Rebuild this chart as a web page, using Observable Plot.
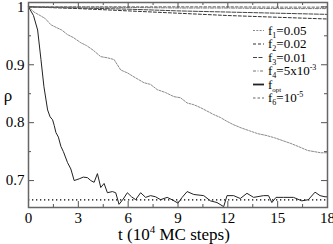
<!DOCTYPE html>
<html><head><meta charset="utf-8">
<script src="https://cdn.jsdelivr.net/npm/d3@7"></script>
<script src="https://cdn.jsdelivr.net/npm/@observablehq/plot@0.6"></script>
<style>body{margin:0;background:#fff} svg{display:block}</style>
</head><body><div id="chart"></div>
<script>
// ---- data ----
const tOpt = [0,0.3,0.55,0.75,0.93,1.15,1.3,1.45,1.55,1.65,1.8,1.95,2.1,2.35,2.55,2.75,3.05,3.3,3.55,3.75,3.95,4.15,4.35,4.55,4.75,5.05,5.25,5.45,5.7,5.95,6.2,6.45,6.75,7.05,7.35,7.65,7.95,8.35,8.7,9.0,9.25,9.55,9.95,10.55,10.95,11.35,11.75,11.95,12.35,12.75,13.15,13.55,14.15,14.45,14.65,14.9,15.35,15.95,16.45,16.85,17.25,17.55,17.85,18];
const rhoOpt = [1,0.985,0.96,0.909,0.862,0.822,0.81,0.805,0.795,0.783,0.775,0.759,0.75,0.731,0.72,0.70,0.703,0.706,0.705,0.70,0.697,0.712,0.688,0.695,0.679,0.681,0.679,0.659,0.668,0.679,0.672,0.667,0.679,0.671,0.674,0.672,0.667,0.671,0.666,0.661,0.671,0.681,0.676,0.674,0.665,0.662,0.655,0.674,0.674,0.669,0.678,0.671,0.674,0.674,0.662,0.671,0.671,0.671,0.665,0.667,0.680,0.674,0.672,0.672];
const tF1 = [0,0.33,0.7,1.0,1.35,1.7,2.0,2.35,2.7,3.15,3.5,3.9,4.35,4.75,5.15,5.55,5.95,6.35,6.95,7.35,7.75,8.25,8.75,9.15,9.55,9.95,10.35,10.75,11.15,11.55,11.9,12.3,12.8,13.3,13.8,14.3,14.8,15.3,15.8,16.4,16.8,17.2,17.6,18];
const rhoF1 = [1,0.991,0.985,0.98,0.969,0.964,0.96,0.952,0.947,0.938,0.933,0.925,0.914,0.912,0.909,0.891,0.886,0.879,0.869,0.866,0.857,0.852,0.845,0.843,0.834,0.831,0.826,0.82,0.814,0.809,0.803,0.797,0.791,0.786,0.781,0.778,0.774,0.769,0.764,0.757,0.752,0.75,0.748,0.748];
const tTop = [0,3,6,9,12,15,18];
const rhoF2 = [1,0.997,0.993,0.989,0.985,0.982,0.979];
const rhoF3 = [1,0.998,0.996,0.993,0.991,0.989,0.987];
const rhoF4 = [1,0.9995,0.999,0.998,0.998,0.997,0.997];
const rhoF6 = [1,1,1,1,1,0.9995,0.9995];
const rhoRef = 2/3;
const xTicks = [0,3,6,9,12,15,18];
const xMinor = [1.5,4.5,7.5,10.5,13.5,16.5];
const yTicks = [0.7,0.8,0.9,1];
const yMinor = [0.75,0.85,0.95];
const legendLabels = [
  {name:"f", sub:"1", rest:"=0.05"},
  {name:"f", sub:"2", rest:"=0.02"},
  {name:"f", sub:"3", rest:"=0.01"},
  {name:"f", sub:"4", rest:"=5x10", sup:"-3"},
  {name:"f", sub:"opt", rest:""},
  {name:"f", sub:"6", rest:"=10", sup:"-5"}
];
// ---- styles ----
const styles = [
  {stroke:"#8a8a8a", dash:"2,1.3", w:1},
  {stroke:"#333", dash:"3,2", w:1},
  {stroke:"#444", dash:"4,1.5", w:1},
  {stroke:"#777", dash:"3,1.5,1,1.5", w:1},
  {stroke:"#222", dash:null, w:1},
  {stroke:"#666", dash:"2.5,2", w:1}
];
const zip = (t, r) => t.map((d,i) => ({t:d, rho:r[i]}));
const series = [zip(tF1,rhoF1), zip(tTop,rhoF2), zip(tTop,rhoF3), zip(tTop,rhoF4), zip(tOpt,rhoOpt), zip(tTop,rhoF6)];

const W = 333, H = 244, mT = 2, mB = 37, mL = 28, mR = 6;
const pw = W - mL - mR, ph = H - mT - mB;
const FONT = "'Liberation Serif', 'Times New Roman', serif";

const lineMarks = series.map((s,i) => Plot.line(s, {x:"t", y:"rho", stroke: styles[i].stroke, strokeWidth: styles[i].w, strokeDasharray: styles[i].dash}));

const plot = Plot.plot({
  width: W, height: H,
  marginTop: mT, marginBottom: mB, marginLeft: mL, marginRight: mR,
  style: {fontFamily: FONT, fontSize: "15px", color: "#000", background: "#fff"},
  x: {domain: [0, 18]},
  y: {domain: [0.6535, 1.0075]},
  marks: [
    Plot.ruleY([rhoRef], {stroke:"#000", strokeWidth:1.3, strokeDasharray:"1.3,2.7"}),
    ...lineMarks,
    Plot.ruleX(xTicks, {stroke:"#555", insetTop: ph-6}),
    Plot.ruleX(xTicks, {stroke:"#555", insetBottom: ph-6}),
    Plot.ruleX(xMinor, {stroke:"#555", insetTop: ph-3}),
    Plot.ruleX(xMinor, {stroke:"#555", insetBottom: ph-3}),
    Plot.ruleY(yTicks, {stroke:"#555", insetRight: pw-6}),
    Plot.ruleY(yTicks, {stroke:"#555", insetLeft: pw-6}),
    Plot.ruleY(yMinor, {stroke:"#555", insetRight: pw-3}),
    Plot.ruleY(yMinor, {stroke:"#555", insetLeft: pw-3}),
    Plot.axisX(xTicks, {tickSize:0, tickPadding:5, label:null}),
    Plot.axisY(yTicks, {tickSize:0, tickPadding:4, label:null, tickFormat: d => String(d)}),
    Plot.frame({stroke:"#666", strokeWidth:1.5})
  ]
});
document.getElementById("chart").appendChild(plot);

// ---- labels and legend ----
const svg = d3.select(plot);
const xl = svg.append("text").attr("x", 174).attr("y", 240).attr("text-anchor","middle")
  .attr("font-family", FONT).attr("font-size", 17).attr("fill","#000");
xl.append("tspan").text("t (10");
xl.append("tspan").attr("dy",-7).attr("font-size",11).text("4");
xl.append("tspan").attr("dy",7).text(" MC steps)");
svg.append("text").attr("x", 8).attr("y", 101).attr("text-anchor","middle")
  .attr("font-family", FONT).attr("font-size", 17).attr("fill","#000").text("ρ");

const lg = svg.append("g").attr("font-family", FONT).attr("font-size", 13).attr("text-anchor","start");
legendLabels.forEach((L, i) => {
  const y = 30.5 + 13.5*i;
  const st = styles[i];
  lg.append("line").attr("x1",253).attr("x2",264).attr("y1",y).attr("y2",y)
    .attr("stroke", st.stroke).attr("stroke-width", i===4 ? 1.8 : 1)
    .attr("stroke-dasharray", st.dash || null);
  const tx = lg.append("text").attr("x",268).attr("y",y+4).attr("fill","#000").attr("text-anchor","start");
  tx.append("tspan").text(L.name);
  tx.append("tspan").attr("dy",3).attr("font-size", L.sub.length > 1 ? 7 : 8).text(L.sub);
  if (L.rest) tx.append("tspan").attr("dy",-3).text(L.rest);
  if (L.sup) tx.append("tspan").attr("dy",-5).attr("font-size",8).text(L.sup);
});
</script>
</body></html>
